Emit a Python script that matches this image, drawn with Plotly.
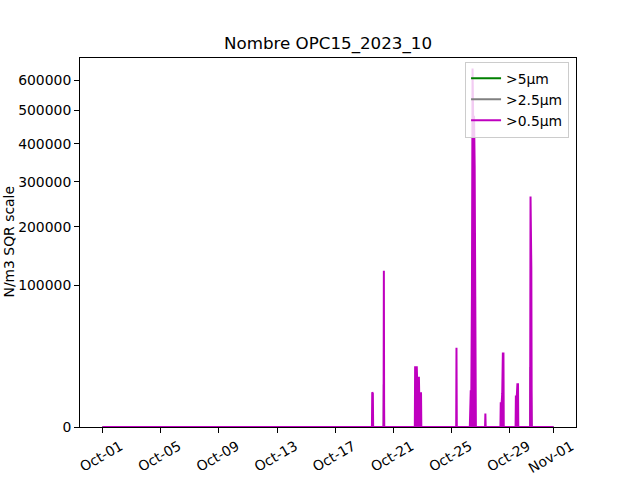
import math
import plotly.graph_objects as go

# ---- data (>0.5 µm count, N/m3) ----
times_05 = [
    "2023-10-01 00:00",
    "2023-10-19 12:30", "2023-10-19 13:00", "2023-10-19 14:00", "2023-10-19 14:30",
    "2023-10-20 07:40", "2023-10-20 08:10", "2023-10-20 08:40",
    "2023-10-22 11:15", "2023-10-22 11:45", "2023-10-22 14:30", "2023-10-22 15:00",
    "2023-10-22 18:00", "2023-10-22 18:30", "2023-10-22 21:30", "2023-10-22 22:00",
    "2023-10-25 07:30", "2023-10-25 08:00", "2023-10-25 08:30",
    "2023-10-26 06:00", "2023-10-26 06:30", "2023-10-26 07:30", "2023-10-26 08:30",
    "2023-10-26 09:30", "2023-10-26 10:30", "2023-10-26 11:30", "2023-10-26 13:00",
    "2023-10-26 14:00", "2023-10-26 15:00", "2023-10-26 16:00",
    "2023-10-27 07:10", "2023-10-27 07:40", "2023-10-27 08:10",
    "2023-10-28 08:30", "2023-10-28 09:00", "2023-10-28 10:30", "2023-10-28 11:30",
    "2023-10-28 12:30", "2023-10-28 13:30", "2023-10-28 14:00",
    "2023-10-29 09:30", "2023-10-29 10:00", "2023-10-29 11:30", "2023-10-29 12:30",
    "2023-10-29 13:30", "2023-10-29 14:00",
    "2023-10-30 09:30", "2023-10-30 10:10", "2023-10-30 11:30", "2023-10-30 12:10",
    "2023-11-01 00:00",
]
values_05 = [
    0,
    0, 6000, 5600, 0,
    0, 121700, 0,
    0, 17800, 17800, 12100,
    12100, 5700, 5700, 0,
    0, 31300, 0,
    0, 2900, 6400, 6400,
    90000, 640000, 480000, 480000,
    340000, 85000, 0,
    0, 900, 0,
    0, 2800, 2800, 5700,
    27000, 27000, 0,
    0, 4600, 4600, 9100,
    9100, 0,
    0, 265000, 126000, 0,
    0,
]

# ---- data (>2.5 µm and >5 µm), hidden under the >0.5 µm curve ----
times_25 = ["2023-10-01 00:00", "2023-10-20 07:40", "2023-10-20 08:10", "2023-10-20 08:40",
            "2023-10-26 09:30", "2023-10-26 10:30", "2023-10-26 11:30",
            "2023-10-30 09:30", "2023-10-30 10:10", "2023-10-30 12:10", "2023-11-01 00:00"]
values_25 = [0, 0, 9000, 0, 0, 42000, 0, 0, 18000, 0, 0]

times_5 = ["2023-10-01 00:00", "2023-10-26 09:30", "2023-10-26 10:30", "2023-10-26 11:30",
           "2023-11-01 00:00"]
values_5 = [0, 0, 3500, 0, 0]

y_ticks = [0, 100000, 200000, 300000, 400000, 500000, 600000]
x_ticks = ["2023-10-01", "2023-10-05", "2023-10-09", "2023-10-13", "2023-10-17",
           "2023-10-21", "2023-10-25", "2023-10-29", "2023-11-01"]

sq = lambda arr: [math.sqrt(v) for v in arr]

FONT = "DejaVu Sans"
MAG = "#bf00bf"

fig = go.Figure()
fig.add_trace(go.Scatter(x=times_5, y=sq(values_5), mode="lines", name=">5µm",
                         line=dict(color="#008000", width=2)))
fig.add_trace(go.Scatter(x=times_25, y=sq(values_25), mode="lines", name=">2.5µm",
                         line=dict(color="#808080", width=2)))
fig.add_trace(go.Scatter(x=times_05, y=sq(values_05), mode="lines", showlegend=False,
                         fill="tozeroy", fillcolor=MAG, line=dict(color=MAG, width=0),
                         hoverinfo="skip"))
fig.add_trace(go.Scatter(x=times_05, y=sq(values_05), mode="lines", name=">0.5µm",
                         line=dict(color=MAG, width=2)))

fig.update_layout(
    width=640, height=480,
    margin=dict(l=80, r=64, t=58, b=53, autoexpand=False),
    paper_bgcolor="white", plot_bgcolor="white",
    font=dict(family=FONT, size=13.9, color="black"),
    title=dict(text="Nombre OPC15_2023_10", x=328 / 640, xanchor="center",
               y=1 - 43 / 480, yanchor="middle", yref="container",
               font=dict(size=16.7, family=FONT, color="black")),
    legend=dict(x=0.986, xanchor="right", y=0.99, yanchor="top",
                bgcolor="rgba(255,255,255,0.8)", bordercolor="#cccccc", borderwidth=1,
                font=dict(size=13.9, family=FONT), tracegroupgap=0),
    showlegend=True,
    annotations=[dict(text="N/m3 SQR scale", xref="paper", yref="paper",
                      x=(8 - 80) / 496, y=0.5, xanchor="center", yanchor="middle",
                      textangle=-90, showarrow=False,
                      font=dict(size=13.9, family=FONT, color="black"))],
)
fig.update_xaxes(
    type="date", range=["2023-09-29 10:48", "2023-11-02 13:12"],
    tickvals=x_ticks, tickformat="%b-%d", tickangle=-30,
    ticks="outside", ticklen=5, tickwidth=1, tickcolor="black",
    showline=True, mirror=True, linecolor="black", linewidth=1,
    showgrid=False, zeroline=False, ticklabelshift=18, automargin=False,
    tickfont=dict(size=13.9, family=FONT),
)
fig.update_yaxes(
    range=[0, 823.7],
    tickvals=sq(y_ticks), ticktext=[str(v) for v in y_ticks],
    ticks="outside", ticklen=5, tickwidth=1, tickcolor="black",
    showline=True, mirror=True, linecolor="black", linewidth=1,
    showgrid=False, zeroline=False, automargin=False,
    tickfont=dict(size=13.9, family=FONT),
)

fig.write_html("out.html", config={"displayModeBar": False},
               post_script="document.body.style.margin='0';")
